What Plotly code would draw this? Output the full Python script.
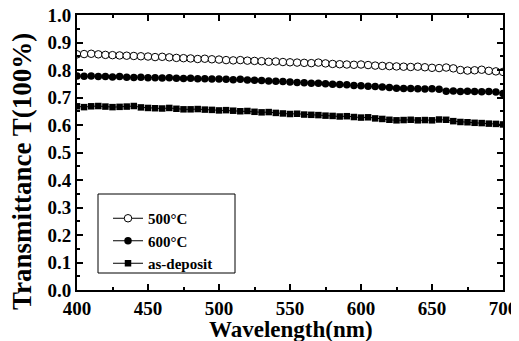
import plotly.graph_objects as go

wavelength = list(range(400, 701, 5))

t_500 = [0.857,0.858,0.859,0.857,0.855,0.854,0.853,0.852,0.851,0.850,0.849,0.847,0.848,0.846,0.844,0.843,
         0.842,0.840,0.841,0.839,0.838,0.836,0.835,0.836,0.834,0.833,0.832,0.830,0.831,0.829,0.828,
         0.827,0.826,0.825,0.827,0.824,0.822,0.821,0.820,0.819,0.820,0.818,0.816,0.815,0.814,0.813,
         0.812,0.811,0.812,0.810,0.808,0.807,0.809,0.806,0.800,0.798,0.799,0.801,0.797,0.795,0.793]

t_600 = [0.778,0.777,0.778,0.776,0.776,0.775,0.776,0.774,0.773,0.774,0.772,0.772,0.771,0.772,0.770,0.769,
         0.770,0.768,0.768,0.767,0.767,0.766,0.765,0.766,0.764,0.763,0.762,0.760,0.759,0.758,0.756,
         0.755,0.754,0.752,0.752,0.750,0.748,0.747,0.746,0.744,0.743,0.741,0.740,0.738,0.736,0.734,
         0.733,0.733,0.732,0.731,0.732,0.730,0.723,0.724,0.722,0.723,0.722,0.721,0.722,0.720,0.715]

t_asdep = [0.668,0.665,0.668,0.669,0.667,0.665,0.666,0.667,0.669,0.664,0.662,0.661,0.660,0.662,0.659,0.657,
           0.657,0.658,0.656,0.655,0.653,0.654,0.652,0.650,0.651,0.648,0.646,0.647,0.644,0.642,0.640,
           0.641,0.638,0.637,0.636,0.634,0.633,0.631,0.632,0.629,0.627,0.628,0.624,0.622,0.619,0.617,
           0.618,0.619,0.617,0.618,0.617,0.620,0.619,0.614,0.611,0.610,0.608,0.607,0.605,0.604,0.602]

series_names = ["500\u00b0C", "600\u00b0C", "as-deposit"]
x_ticks = [400, 450, 500, 550, 600, 650, 700]
y_ticks = [0.0, 0.1, 0.2, 0.3, 0.4, 0.5, 0.6, 0.7, 0.8, 0.9, 1.0]

FONT = "Liberation Serif, Times New Roman, serif"

# The page body has an 8px margin; the figure is sized so that it ends at the window edge.
fig = go.Figure()
fig.add_trace(go.Scatter(x=wavelength, y=t_500, name=series_names[0], mode="lines+markers",
                         line=dict(color="black", width=1),
                         marker=dict(symbol="circle", size=7.5, color="white",
                                     line=dict(color="black", width=1))))
fig.add_trace(go.Scatter(x=wavelength, y=t_600, name=series_names[1], mode="lines+markers",
                         line=dict(color="black", width=1),
                         marker=dict(symbol="circle", size=7.5, color="black",
                                     line=dict(color="black", width=0))))
fig.add_trace(go.Scatter(x=wavelength, y=t_asdep, name=series_names[2], mode="lines+markers",
                         line=dict(color="black", width=1),
                         marker=dict(symbol="square", size=6.5, color="black",
                                     line=dict(color="black", width=0))))

fig.update_layout(
    width=511, height=333,
    margin=dict(l=69, r=16, t=7, b=51, autoexpand=False),
    paper_bgcolor="white", plot_bgcolor="white",
    font=dict(family=FONT, color="black"),
    showlegend=True,
    legend=dict(x=(108 - 77) / 426, y=(290 - 202) / 275, xanchor="left", yanchor="top",
                bgcolor="rgba(0,0,0,0)", borderwidth=0,
                font=dict(family=FONT, size=15, weight="bold", color="black"),
                tracegroupgap=0, itemwidth=30),
    shapes=[dict(type="rect", xref="paper", yref="paper",
                 x0=(98 - 77) / 426, x1=(235 - 77) / 426,
                 y0=(290 - 273) / 275, y1=(290 - 194) / 275,
                 line=dict(color="black", width=1), fillcolor="rgba(0,0,0,0)", layer="below")],
    annotations=[
        dict(text="Transmittance T(100%)", textangle=-90,
             xref="paper", yref="paper", x=(22 - 77) / 426, y=(290 - 172) / 275,
             xanchor="center", yanchor="middle", showarrow=False,
             font=dict(family=FONT, size=27, weight="bold", color="black")),
        dict(text="Wavelength(nm)",
             xref="paper", yref="paper", x=(291 - 77) / 426, y=(290 - 329) / 275,
             xanchor="center", yanchor="middle", showarrow=False,
             font=dict(family=FONT, size=23, weight="bold", color="black")),
    ],
)

fig.update_xaxes(
    range=[400, 700], tickmode="array", tickvals=x_ticks, automargin=False,
    ticklabeloverflow="allow",
    ticks="inside", ticklen=6, tickwidth=1.5, tickcolor="black",
    minor=dict(dtick=25, ticks="inside", ticklen=3, tickcolor="black"),
    showline=True, linecolor="black", linewidth=2, mirror="ticks",
    showgrid=False, zeroline=False,
    tickfont=dict(family=FONT, size=19, weight="bold", color="black"),
)
fig.update_yaxes(
    range=[0, 1.0], tickmode="array", tickvals=y_ticks, automargin=False,
    ticklabeloverflow="allow",
    ticktext=[f"{v:.1f}" for v in y_ticks],
    ticks="inside", ticklen=6, tickwidth=1.5, tickcolor="black",
    minor=dict(dtick=0.05, ticks="inside", ticklen=3, tickcolor="black"),
    showline=True, linecolor="black", linewidth=2, mirror="ticks",
    showgrid=False, zeroline=False,
    tickfont=dict(family=FONT, size=19, weight="bold", color="black"),
)

fig.write_html("out.html")
